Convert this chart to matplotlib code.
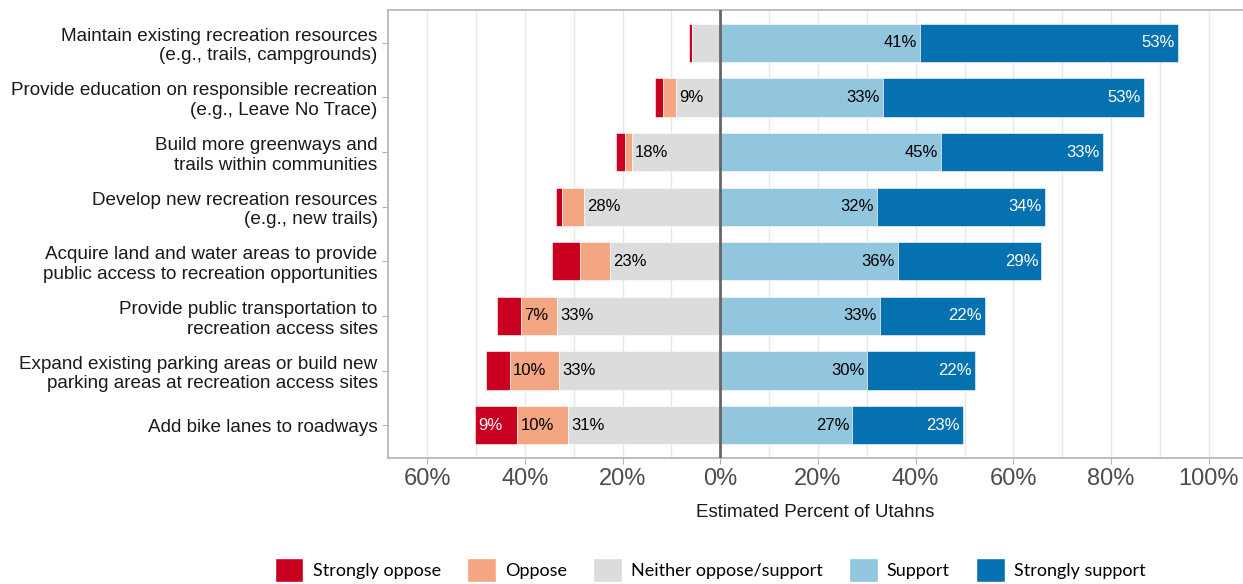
import matplotlib
matplotlib.use("Agg")
import matplotlib.pyplot as plt
import numpy as np
from matplotlib.patches import Patch

# survey items, top to bottom
items = [
    "Maintain existing recreation resources\n(e.g., trails, campgrounds)",
    "Provide education on responsible recreation\n(e.g., Leave No Trace)",
    "Build more greenways and\ntrails within communities",
    "Develop new recreation resources\n(e.g., new trails)",
    "Acquire land and water areas to provide\npublic access to recreation opportunities",
    "Provide public transportation to\nrecreation access sites",
    "Expand existing parking areas or build new\nparking areas at recreation access sites",
    "Add bike lanes to roadways",
]

strongly_oppose = [0.6, 1.5, 2.0, 1.4, 5.6, 5.0, 4.8, 8.6]
oppose = [0.0, 2.8, 1.4, 4.5, 6.2, 7.3, 10.2, 10.4]
neutral = [5.7, 9.0, 18.0, 27.8, 22.6, 33.4, 32.9, 31.1]
support = [40.9, 33.3, 45.2, 32.0, 36.3, 32.7, 30.1, 27.0]
strongly_support = [52.8, 53.4, 33.1, 34.4, 29.4, 21.5, 22.0, 22.7]

legend_labels = ["Strongly oppose", "Oppose", "Neither oppose/support", "Support", "Strongly support"]
colors = ["#ca0020", "#f4a582", "#dcdcdc", "#92c5de", "#0571b0"]
text_colors = ["white", "black", "black", "black", "white"]

fig = plt.figure(figsize=(12.43, 5.84), dpi=100)
ax = fig.add_axes([388 / 1243, 1 - 458 / 584, (1243 - 388) / 1243, 448 / 584])

y = np.arange(len(items))
so = np.array(strongly_oppose)
op = np.array(oppose)
ne = np.array(neutral)
su = np.array(support)
ss = np.array(strongly_support)

# left side: neutral nearest zero, then oppose, then strongly oppose
segments = [
    (so, -(ne + op + so), "left"),
    (op, -(ne + op), "left"),
    (ne, -ne, "left"),
    (su, np.zeros_like(su), "right"),
    (ss, su, "right"),
]
h = 0.7
for (vals, lefts, side), c, tc in zip(segments, colors, text_colors):
    ax.barh(y, vals, left=lefts, height=h, color=c, edgecolor="white", linewidth=0.4, zorder=2)
    # labels sit at the outer end of each segment
    for yi, v, l in zip(y, vals, lefts):
        if round(v) >= 7:
            if side == "left":
                ax.text(l + 0.6, yi, f"{round(v)}%", ha="left", va="center",
                        fontsize=12, color=tc, family="Liberation Sans", zorder=3)
            else:
                ax.text(l + v - 0.6, yi, f"{round(v)}%", ha="right", va="center",
                        fontsize=12, color=tc, family="Liberation Sans", zorder=3)

ax.axvline(0, color="#666666", linewidth=2, zorder=4)

ax.set_xlim(-68, 107)
ax.set_ylim(len(items) - 0.4, -0.6)
ax.set_xticks(np.arange(-60, 101, 20))
ax.set_xticklabels([f"{abs(t)}%" for t in range(-60, 101, 20)],
                   family="Liberation Sans", fontsize=17, color="#4d4d4d")
ax.set_xticks(np.arange(-60, 101, 10), minor=True)
ax.set_yticks(y)
ax.set_yticklabels(items, family="Liberation Sans", fontsize=13.6, color="#1a1a1a")
ax.grid(axis="x", which="both", color="#e6e6e6", linewidth=1, zorder=0)
ax.set_axisbelow(True)
ax.tick_params(axis="both", which="both", color="#b3b3b3", length=4)
ax.tick_params(axis="x", which="minor", length=0)
for side in ["left", "bottom", "top"]:
    ax.spines[side].set_color("#b3b3b3")
    ax.spines[side].set_linewidth(1.2)
ax.spines["right"].set_visible(False)
ax.set_xlabel("Estimated Percent of Utahns", family="Liberation Sans", fontsize=13.5,
              color="#1a1a1a", labelpad=10)

handles = [Patch(facecolor=c, edgecolor="white", label=l) for c, l in zip(colors, legend_labels)]
fig.legend(handles=handles, loc="center", bbox_to_anchor=(710 / 1243, 1 - 570 / 584), ncol=5,
           frameon=False, prop={"family": "Lato", "size": 13}, handlelength=1.6, handleheight=1.6,
           columnspacing=1.45, handletextpad=0.5)

fig.savefig("out.png", dpi=100)
